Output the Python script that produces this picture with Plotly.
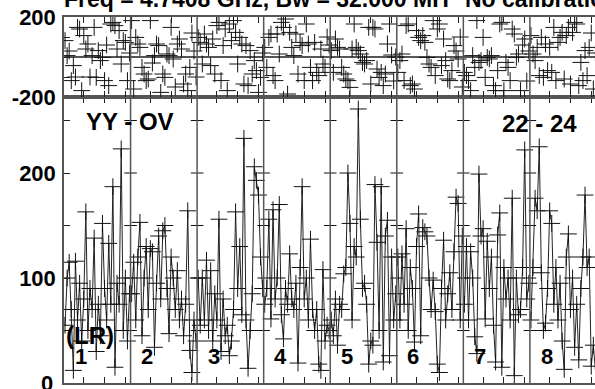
import plotly.graph_objects as go

# ---------------- data ----------------
n_chan = 32
if_labels = ["1", "2", "3", "4", "5", "6", "7", "8"]

amp_if1 = [55, 100, 115, 70, 12, 116, 60, 95, 40, 80, 163, 50, 90, 70, 138, 30,
           75, 45, 152, 90, 60, 133, 75, 187, 15, 95, 75, 223, 50, 100, 40, 85]
amp_if2 = [85, 115, 60, 120, 153, 45, 100, 130, 70, 128, 125, 34, 95, 140, 80, 145,
           150, 90, 47, 120, 100, 70, 107, 60, 80, 45, 75, 164, 31, 10, 60, 40]
amp_if3 = [100, 55, 100, 60, 117, 50, 107, 40, 85, 60, 156, 30, 80, 45, 55, 26,
           40, 70, 163, 90, 130, 65, 233, 60, 14, 50, 85, 206, 193, 179, 120, 90]
amp_if4 = [75, 90, 156, 61, 165, 80, 100, 170, 65, 42, 90, 75, 123, 80, 70, 95,
           19, 110, 187, 80, 100, 60, 137, 70, 50, 70, 18, 12, 108, 40, 55, 50]
amp_if5 = [60, 45, 80, 36, 75, 70, 104, 110, 200, 152, 60, 130, 120, 261, 156, 90,
           95, 75, 18, 40, 36, 189, 134, 50, 187, 20, 140, 155, 26, 120, 60, 85]
amp_if6 = [120, 60, 123, 75, 147, 50, 110, 90, 39, 130, 161, 45, 148, 144, 140, 100,
           70, 98, 68, 18, 10, 90, 136, 60, 85, 105, 70, 125, 177, 171, 60, 140]
amp_if7 = [75, 130, 60, 125, 100, 44, 28, 199, 140, 147, 61, 135, 90, 120, 55, 20,
           141, 162, 15, 110, 80, 100, 60, 176, 7, 100, 65, 70, 110, 222, 80, 95]
amp_if8 = [60, 110, 176, 164, 225, 105, 50, 57, 90, 164, 152, 75, 110, 60, 95, 40,
           13, 120, 142, 70, 100, 34, 75, 22, 90, 120, 179, 110, 120, 16, 36, 12]

ph_if1 = [82, 7, 30, -118, -43, -100, 148, 140, -168, 107, 40, 65, -100, 7, 148, -102,
          32, -18, -2, -118, 60, -143, 165, 173, 157, 40, 132, -35, 82, 73, -118, 20]
ph_if2 = [182, -160, 98, 65, 48, -52, -85, -118, -110, 182, -30, 7, 65, 57, -177, -85,
          -102, 15, 7, 148, -10, -150, 65, 90, 40, -135, -85, -168, -52, 120, 30, -100]
ph_if3 = [98, 73, -35, 115, 65, 48, -43, 90, -85, 157, 173, -118, 57, 140, -168, 165,
          82, 182, 123, -35, 98, 65, -135, 57, -143, 32, -85, -18, -68, -177, -102, 20]
ph_if4 = [48, -52, 98, 115, -93, -118, 115, 15, 173, 148, 190, -185, 123, 48, 7, 115,
          -85, 73, 57, -118, 165, 65, -52, -118, 73, -77, -93, 40, -35, -52, 100, 60]
ph_if5 = [32, -77, 90, 48, 40, -52, -85, -110, -118, -152, 40, 165, 48, 32, 15, -27,
          -35, -18, 148, -135, 148, 140, -60, -102, -77, -143, -85, 65, 165, 10, -120, 0]
ph_if6 = [-77, -18, 15, -118, 157, 165, -143, -135, -160, 132, 98, 82, 107, 73, -2, -35,
          -52, 182, -93, 140, 165, -43, 90, -18, -110, -118, -68, 57, 30, -10, 100, -150]
ph_if7 = [-77, -93, -118, -168, 7, -52, 182, -27, -18, 98, -102, -2, -10, 7, -143, -168,
          -68, 165, 173, -168, -27, -52, -118, 140, 115, -2, 15, -168, 60, 90, -120, 30]
ph_if8 = [107, 15, -18, 48, -93, 98, -102, 65, -68, 48, -77, 148, -118, 73, 98, 123,
          -110, 107, 148, -135, 123, 173, 165, -143, -27, -118, 32, -93, 48, 120, -160, 20]

amp_ticks = [0, 50, 100, 150, 200, 250]
amp_ticktext = ["", "", "100", "", "200", ""]
amp_zero_label = "0"
ph_ticks = [-200, -100, 0, 100, 200]
ph_ticktext = ["-200", "", "", "", "200"]

title_left = "Freq = 4.7408 GHz, Bw = 32.000 MH"
title_right = "No calibration applied"
label_baseline = "YY - OV"
label_time = "22 - 24"
label_pol = "(LR)"

amps = [amp_if1, amp_if2, amp_if3, amp_if4, amp_if5, amp_if6, amp_if7, amp_if8]
phases = [ph_if1, ph_if2, ph_if3, ph_if4, ph_if5, ph_if6, ph_if7, ph_if8]

# ---------------- figure ----------------
FONT = "Liberation Sans"
W, H = 595, 389
ml, mr, mt, mb = 64, 0, 17, 6
split = (383 - 97) / (383 - 17)
plot_w = W - ml - mr

fig = go.Figure()

marker = dict(symbol="cross-thin", size=12, line=dict(width=1, color="#111111"), color="#111111")

for p in range(8):
    xs = [p * n_chan + c for c in range(1, n_chan + 1)]
    fig.add_trace(go.Scatter(x=xs, y=amps[p], mode="lines+markers",
                             line=dict(color="#222222", width=1), marker=marker,
                             xaxis="x", yaxis="y", showlegend=False, hoverinfo="skip"))
    fig.add_trace(go.Scatter(x=xs, y=phases[p], mode="markers", marker=marker,
                             xaxis="x2", yaxis="y2", showlegend=False, hoverinfo="skip"))

# panel dividers
dividers = [p * n_chan + 0.5 for p in range(1, 8)]
for d in dividers:
    fig.add_shape(type="line", x0=d, x1=d, y0=0, y1=1, xref="x", yref="paper",
                  line=dict(color="#555555", width=1.5))

# y ticks crossing the dividers (amplitude panel)
tx, ty = [], []
for d in dividers:
    for v in amp_ticks[1:]:
        tx.append(d)
        ty.append(v)
fig.add_trace(go.Scatter(x=tx, y=ty, mode="markers",
                         marker=dict(symbol="line-ew", size=9, line=dict(width=1, color="#111111")),
                         xaxis="x", yaxis="y", showlegend=False, hoverinfo="skip"))
# right-border ticks (border itself lies just outside the picture)
rx = [8 * n_chan + 0.5] * (len(amp_ticks) - 1)
fig.add_trace(go.Scatter(x=rx, y=amp_ticks[1:], mode="markers", cliponaxis=False,
                         marker=dict(symbol="line-ew", size=14, line=dict(width=1, color="#111111")),
                         xaxis="x", yaxis="y", showlegend=False, hoverinfo="skip"))

xticks = [p * n_chan + t for p in range(8) for t in (10, 20, 30)]
axis_common = dict(showgrid=False, ticks="inside", ticklen=6, tickcolor="#222222",
                   showline=True, linecolor="#555555", linewidth=1.5, automargin=False)

tickfont = dict(family=FONT, size=22, weight="bold", color="black")
fig.update_layout(
    width=W, height=H,
    margin=dict(l=ml, r=mr, t=mt, b=mb, autoexpand=False),
    paper_bgcolor="white", plot_bgcolor="white",
    xaxis=dict(domain=[0, 1], range=[0.5, 255.8], anchor="y", tickvals=xticks,
               showticklabels=False, mirror="ticks", zeroline=False, **axis_common),
    xaxis2=dict(domain=[0, 1], range=[0.5, 255.8], anchor="y2", tickvals=xticks,
                showticklabels=False, mirror="ticks", zeroline=False, **axis_common),
    yaxis=dict(domain=[0, split], range=[0, 272.4], anchor="x", tickvals=amp_ticks,
               ticktext=amp_ticktext, zeroline=False, ticklabelstandoff=2,
               tickfont=tickfont, **axis_common),
    yaxis2=dict(domain=[split, 1], range=[-200, 200], anchor="x2", tickvals=ph_ticks,
                ticktext=ph_ticktext, zeroline=True, zerolinecolor="#555555", zerolinewidth=1.5,
                ticklabelstandoff=2, tickfont=tickfont, **axis_common),
    font=dict(family=FONT, color="black"),
)

title_font = dict(family=FONT, size=23, weight="bold", color="black")
label_font = dict(family=FONT, size=24, weight="bold", color="black")
num_font = dict(family=FONT, size=22, weight="bold", color="black")
ann = []
ann.append(dict(text=title_left, xref="paper", yref="paper", x=-0.004, y=1.048,
                xanchor="left", yanchor="middle", showarrow=False, font=title_font))
ann.append(dict(text=title_right, xref="paper", yref="paper", x=0.752, y=1.048,
                xanchor="left", yanchor="middle", showarrow=False, font=title_font))
ann.append(dict(text=amp_zero_label, xref="paper", yref="y", x=-9.0 / plot_w, y=0,
                xanchor="right", yanchor="middle", showarrow=False, font=tickfont))
ann.append(dict(text=label_baseline, xref="x", yref="y", x=32.2, y=248.6,
                xanchor="center", yanchor="middle", showarrow=False, font=label_font))
ann.append(dict(text=label_time, xref="x", yref="y", x=228.9, y=247.6,
                xanchor="center", yanchor="middle", showarrow=False, font=label_font))
ann.append(dict(text=label_pol, xref="x", yref="y", x=13.0, y=45.7,
                xanchor="center", yanchor="middle", showarrow=False, font=label_font))
for p, lab in enumerate(if_labels):
    ann.append(dict(text=lab, xref="x", yref="y", x=p * n_chan + 8.5, y=24.8,
                    xanchor="center", yanchor="middle", showarrow=False, font=num_font))
fig.update_layout(annotations=ann)

fig.write_html("out.html", config={"displayModeBar": False},
               post_script="document.body.style.margin='0';document.body.style.overflow='hidden';")
